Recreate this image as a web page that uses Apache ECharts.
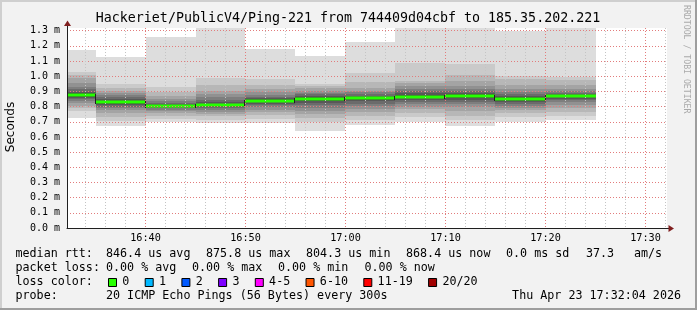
<!DOCTYPE html>
<html><head><meta charset="utf-8">
<script src="https://cdn.jsdelivr.net/npm/echarts@6/dist/echarts.min.js"></script>
<style>html,body{margin:0;padding:0;background:#f2f2f2;}#c{width:697px;height:310px;}</style>
</head><body><div id="c"></div>
<script>
// ---------------- data ----------------
const title = "Hackeriet/PublicV4/Ping-221 from 744409d04cbf to 185.35.202.221";
const endTimes = ["16:35","16:40","16:45","16:50","16:55","17:00","17:05","17:10","17:15","17:20","17:25"];
const medians = [0.8758, 0.828, 0.8043, 0.811, 0.837, 0.852, 0.855, 0.866, 0.871, 0.849, 0.8684];
const pings1  = [0.727,0.771,0.790,0.805,0.822,0.835,0.848,0.858,0.866,0.872,0.880,0.890,0.899,0.915,0.932,0.955,0.987,1.009,1.031,1.173];
const pings2  = [0.674,0.705,0.734,0.756,0.775,0.790,0.800,0.810,0.818,0.825,0.832,0.840,0.850,0.862,0.875,0.890,0.905,0.925,0.947,1.129];
const pings3  = [0.697,0.720,0.740,0.755,0.770,0.780,0.790,0.795,0.800,0.803,0.806,0.810,0.817,0.825,0.835,0.850,0.870,0.895,0.932,1.259];
const pings4  = [0.694,0.715,0.735,0.750,0.765,0.778,0.790,0.798,0.805,0.809,0.813,0.820,0.830,0.845,0.860,0.880,0.905,0.940,0.987,1.318];
const pings5  = [0.690,0.720,0.745,0.765,0.780,0.795,0.810,0.820,0.828,0.834,0.840,0.847,0.855,0.865,0.878,0.895,0.915,0.940,0.985,1.180];
const pings6  = [0.641,0.700,0.725,0.750,0.770,0.790,0.810,0.825,0.838,0.848,0.856,0.862,0.870,0.880,0.890,0.905,0.920,0.935,0.947,1.134];
const pings7  = [0.679,0.710,0.740,0.765,0.785,0.805,0.820,0.835,0.845,0.852,0.858,0.864,0.872,0.882,0.895,0.905,0.921,0.960,1.024,1.228];
const pings8  = [0.700,0.730,0.760,0.785,0.800,0.815,0.830,0.845,0.855,0.862,0.870,0.878,0.888,0.900,0.915,0.935,0.955,0.969,1.090,1.316];
const pings9  = [0.674,0.710,0.740,0.770,0.795,0.815,0.830,0.845,0.858,0.868,0.875,0.882,0.890,0.900,0.915,0.935,0.969,1.009,1.081,1.316];
const pings10 = [0.700,0.730,0.755,0.775,0.790,0.805,0.818,0.830,0.840,0.846,0.852,0.860,0.870,0.880,0.895,0.915,0.940,0.980,1.004,1.295];
const pings11 = [0.712,0.740,0.765,0.790,0.810,0.828,0.842,0.852,0.860,0.866,0.871,0.876,0.882,0.890,0.900,0.915,0.940,0.976,0.998,1.316];
const allPings = [pings1,pings2,pings3,pings4,pings5,pings6,pings7,pings8,pings9,pings10,pings11];
const rttLabel = "median rtt:";
const rttStats = ["846.4 us avg","875.8 us max","804.3 us min","868.4 us now","0.0 ms sd","37.3","am/s"];
const lossLabel = "packet loss:";
const lossStats = ["0.00 % avg","0.00 % max","0.00 % min","0.00 % now"];
const colorLabel = "loss color:";
const lossLevels = ["0","1","2","3","4-5","6-10","11-19","20/20"];
const probeLabel = "probe:";
const probeText = "20 ICMP Echo Pings (56 Bytes) every 300s";
const stampText = "Thu Apr 23 17:32:04 2026";
const watermark = "RRDTOOL / TOBI OETIKER";
const viewStart = "16:32:09", viewEnd = "17:32:09";

// ---------------- styles ----------------
const lossColors = ['#26ff00','#00b8ff','#0059ff','#7e00ff','#ff00ff','#ff5500','#ff0000','#a10000'];
const smokeColors = ['#dddddd','#cacaca','#b7b7b7','#a4a4a4','#919191','#7e7e7e','#6b6b6b','#585858','#454545','#323232'];
const MONO = "'DejaVu Sans Mono', monospace";
const MAJOR = '#e27c7c', MINOR = '#c4c4c4';

function toMin(s){ const p=s.split(':').map(Number); return (p[0]-16)*60+p[1]+(p[2]||0)/60; }
function fmtTime(v){ const t=Math.round(v); const h=16+Math.floor(t/60), m=t%60; return h+':'+(m<10?'0':'')+m; }

const seriesData = endTimes.map((t,i)=>{ const e=toMin(t); return [e-5, e, medians[i]].concat(allPings[i]); });

const chart = echarts.init(document.getElementById('c'), null, {renderer:'canvas'});

const GL=67, GT=28, GW=600, GH=200;
const graphics = [];
// borders
graphics.push({type:'rect', shape:{x:0,y:0,width:697,height:2}, style:{fill:'#cfcfcf'}, z:100});
graphics.push({type:'rect', shape:{x:0,y:0,width:2,height:310}, style:{fill:'#cfcfcf'}, z:100});
graphics.push({type:'rect', shape:{x:0,y:308,width:697,height:2}, style:{fill:'#9e9e9e'}, z:100});
graphics.push({type:'rect', shape:{x:695,y:0,width:2,height:310}, style:{fill:'#9e9e9e'}, z:100});
// title
graphics.push({type:'text', x:348, y:19, style:{text:title, font:"13.3px "+MONO, fill:'#000', align:'center', verticalAlign:'middle'}});
// y name
graphics.push({type:'text', x:11, y:127, rotation:Math.PI/2, style:{text:'Seconds', font:"12px 'DejaVu Sans'", fill:'#000', align:'center', verticalAlign:'middle'}});
// watermark
graphics.push({type:'text', x:686, y:5, rotation:-Math.PI/2, style:{text:watermark, font:"8.2px "+MONO, fill:'#aaaaaa', align:'left', verticalAlign:'middle'}});
// axis extensions & arrows
graphics.push({type:'line', shape:{x1:GL+0.5,y1:23,x2:GL+0.5,y2:GT}, style:{stroke:'#1f1f1f',lineWidth:1}, z:50});
graphics.push({type:'line', shape:{x1:GL+GW,y1:228.5,x2:671,y2:228.5}, style:{stroke:'#1f1f1f',lineWidth:1}, z:50});
graphics.push({type:'polygon', shape:{points:[[GL+0.5,20.5],[GL-3,26],[GL+4,26]]}, style:{fill:'#801f1f'}, z:50});
graphics.push({type:'polygon', shape:{points:[[674,228.5],[668.5,225],[668.5,232]]}, style:{fill:'#801f1f'}, z:50});

// legend
const F = "11.7px "+MONO;
function txt(s,x,y){ graphics.push({type:'text', x:x, y:y, style:{text:s, font:F, fill:'#000', align:'left', verticalAlign:'middle'}}); }
const L1=254.2, L2=268.2, L3=282.2, L4=296.2;
txt(rttLabel,15.5,L1);
const rttX=[106,206,306,406,506,586,634];
rttStats.forEach((s,i)=>txt(s,rttX[i],L1));
txt(lossLabel,15.5,L2);
const lossX=[106,192,278,364.5];
lossStats.forEach((s,i)=>txt(s,lossX[i],L2));
txt(colorLabel,15.5,L3);
let bx=108;
lossLevels.forEach((s,i)=>{
  graphics.push({type:'rect', shape:{x:bx+0.5,y:278.5,width:8,height:8}, style:{fill:lossColors[i], stroke:'#000', lineWidth:1}});
  txt(s,bx+14.3,L3);
  bx += 36.7 + 7.02*(s.length-1);
});
txt(probeLabel,15.5,L4);
txt(probeText,106,L4);
graphics.push({type:'text', x:681, y:L4, style:{text:stampText, font:F, fill:'#000', align:'right', verticalAlign:'middle'}});

const option = {
  backgroundColor:'#f2f2f2',
  animation:false,
  grid:{left:GL, top:GT, width:GW, height:GH, show:true, backgroundColor:'#ffffff', borderWidth:0},
  xAxis:{
    type:'value', min:toMin(viewStart), max:toMin(viewEnd), splitNumber:6, z:5,
    axisLine:{show:true, onZero:false, lineStyle:{color:'#1f1f1f', width:1}},
    axisTick:{show:false},
    axisLabel:{formatter:fmtTime, showMinLabel:false, showMaxLabel:false, fontFamily:MONO, fontSize:10.2, color:'#000', margin:5},
    splitLine:{show:true, showMinLine:false, showMaxLine:false, lineStyle:{color:MAJOR, type:[1,2], width:1}},
    minorTick:{show:false, splitNumber:5},
    minorSplitLine:{show:true, lineStyle:{color:MINOR, type:[1,2], width:1}}
  },
  yAxis:{
    type:'value', min:0, max:1.318, interval:0.1, z:5,
    axisLine:{show:true, lineStyle:{color:'#1f1f1f', width:1}},
    axisTick:{show:false},
    axisLabel:{formatter:v=>v.toFixed(1)+' m', showMaxLabel:false, fontFamily:MONO, fontSize:10, color:'#000', margin:7},
    splitLine:{show:true, showMaxLine:false, lineStyle:{color:MAJOR, type:[1,2], width:1}}
  },
  series:[{
    type:'custom', z:2, clip:true,
    encode:{x:[0,1], y:[2]},
    data:seriesData,
    renderItem:function(params, api){
      const x0=api.value(0), x1=api.value(1), med=api.value(2);
      const ch=[];
      for(let k=0;k<10;k++){
        const lo=api.value(3+k), hi=api.value(3+19-k);
        const a=api.coord([x0,hi]), b=api.coord([x1,lo]);
        const xa=Math.round(a[0]), xb=Math.round(b[0]), ya=Math.round(a[1]), yb=Math.round(b[1]);
        ch.push({type:'rect', shape:{x:xa,y:ya,width:xb-xa,height:yb-ya}, style:{fill:smokeColors[k]}});
      }
      const m0=api.coord([x0,med]), m1=api.coord([x1,med]);
      const xs=Math.round(m0[0]), xe=Math.round(m1[0]), ym=Math.round(m0[1]);
      if(params.dataIndex>0){
        const prev=api.coord([x0, medians[params.dataIndex-1]]);
        const yp=Math.round(prev[1]);
        ch.push({type:'rect', shape:{x:xs-1,y:Math.min(yp,ym)-1,width:1,height:Math.abs(yp-ym)+3}, style:{fill:'#202020'}});
      }
      ch.push({type:'rect', shape:{x:xs,y:ym-1.5,width:xe-xs,height:3}, style:{fill:lossColors[0]}});
      return {type:'group', children:ch};
    }
  }],
  graphic:graphics
};
chart.setOption(option);
</script>
</body></html>
